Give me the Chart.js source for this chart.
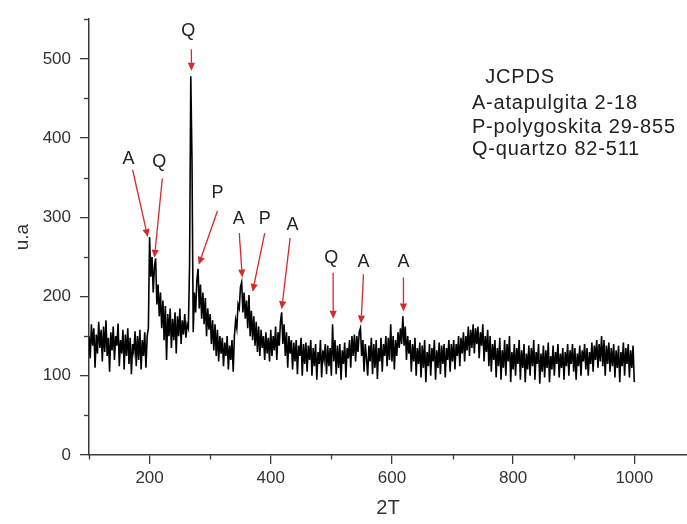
<!DOCTYPE html>
<html><head><meta charset="utf-8">
<script src="https://cdn.jsdelivr.net/npm/chart.js@4/dist/chart.umd.min.js"></script>
<style>html,body{margin:0;padding:0;background:#fff}#wrap{width:687px;height:524px;position:relative}</style>
</head><body><div id="wrap"><canvas id="c" width="687" height="524"></canvas></div>
<script>
const twoTheta = [
100,102,104,106,108,110,112,114,116,118,
120,122,124,126,128,130,132,134,136,138,
140,142,144,146,148,150,152,154,156,158,
160,162,164,166,168,170,172,174,176,178,
180,182,184,186,188,190,192,194,196,198,
200,202,204,206,208,210,212,214,216,218,
220,222,224,226,228,230,232,234,236,238,
240,242,244,246,248,250,252,254,256,258,
260,262,264,266,268,270,272,274,276,278,
280,282,284,286,288,290,292,294,296,298,
300,302,304,306,308,310,312,314,316,318,
320,322,324,326,328,330,332,334,336,338,
340,342,344,346,348,350,352,354,356,358,
360,362,364,366,368,370,372,374,376,378,
380,382,384,386,388,390,392,394,396,398,
400,402,404,406,408,410,412,414,416,418,
420,422,424,426,428,430,432,434,436,438,
440,442,444,446,448,450,452,454,456,458,
460,462,464,466,468,470,472,474,476,478,
480,482,484,486,488,490,492,494,496,498,
500,502,504,506,508,510,512,514,516,518,
520,522,524,526,528,530,532,534,536,538,
540,542,544,546,548,550,552,554,556,558,
560,562,564,566,568,570,572,574,576,578,
580,582,584,586,588,590,592,594,596,598,
600,602,604,606,608,610,612,614,616,618,
620,622,624,626,628,630,632,634,636,638,
640,642,644,646,648,650,652,654,656,658,
660,662,664,666,668,670,672,674,676,678,
680,682,684,686,688,690,692,694,696,698,
700,702,704,706,708,710,712,714,716,718,
720,722,724,726,728,730,732,734,736,738,
740,742,744,746,748,750,752,754,756,758,
760,762,764,766,768,770,772,774,776,778,
780,782,784,786,788,790,792,794,796,798,
800,802,804,806,808,810,812,814,816,818,
820,822,824,826,828,830,832,834,836,838,
840,842,844,846,848,850,852,854,856,858,
860,862,864,866,868,870,872,874,876,878,
880,882,884,886,888,890,892,894,896,898,
900,902,904,906,908,910,912,914,916,918,
920,922,924,926,928,930,932,934,936,938,
940,942,944,946,948,950,952,954,956,958,
960,962,964,966,968,970,972,974,976,978,
980,982,984,986,988,990,992,994,996,998,
1000];
const intensity = [
150,122,165,138,160,110,152,128,168,135,
158,118,162,130,170,125,148,105,155,132,
162,120,150,138,166,112,145,128,158,108,
152,125,160,115,148,102,140,130,156,112,
150,120,158,108,145,125,155,110,150,160,
275,225,250,205,238,248,190,215,175,205,
160,195,145,188,120,178,150,185,135,172,
145,180,128,175,150,185,140,170,152,178,
148,165,160,240,478,372,155,205,180,220,
235,185,215,172,205,165,198,150,185,158,
178,140,170,132,165,125,158,118,150,128,
148,112,142,125,150,108,138,120,145,105,
150,170,160,190,185,212,218,180,205,172,
195,160,202,150,182,145,175,138,168,130,
162,125,158,135,150,120,155,128,148,118,
158,125,150,132,162,120,155,138,168,180,
140,165,125,155,110,150,128,145,108,142,
118,145,102,138,125,148,100,140,115,142,
105,138,120,145,100,135,112,140,95,130,
115,145,98,132,120,140,102,138,112,135,
100,165,118,145,102,138,110,140,95,132,
115,142,98,135,122,145,110,150,125,152,
118,150,130,155,160,125,145,105,140,122,
100,138,118,148,102,140,110,145,96,135,
118,148,105,140,125,150,112,148,120,165,
118,150,108,145,125,155,135,160,140,175,
138,162,120,150,128,145,105,140,118,148,
100,135,115,142,98,138,110,145,92,130,
112,140,100,135,118,145,95,132,110,142,
102,138,115,140,98,135,120,145,105,140,
118,145,108,140,125,150,112,148,128,155,
118,150,132,162,125,158,135,165,128,160,
140,162,122,155,138,165,118,150,130,158,
112,150,105,140,120,145,98,135,112,148,
95,132,110,145,100,140,118,150,92,130,
108,140,100,135,115,145,95,132,110,140,
92,128,108,138,100,135,112,145,95,130,
115,140,90,128,105,138,98,132,110,142,
92,125,108,138,100,130,115,140,98,128,
110,135,95,130,112,140,100,132,115,140,
105,135,95,128,112,138,100,132,118,140,
108,135,100,130,115,142,105,138,120,145,
110,140,118,150,112,145,100,138,115,142,
105,135,112,140,98,132,110,138,92,130,
112,142,100,135,115,140,98,132,110,138,
92];

const xMajorTicks = [200,400,600,800,1000];
const xMinorTicks = [100,300,500,700,900];
const yMajorTicks = [0,100,200,300,400,500];
const yMinorTicks = [50,150,250,350,450,550];

const peakLabels = ['A','Q','Q','P','A','P','A','Q','A','A'];
const labelX     = [165,216,264,312,347,390,436,500,553,619];
const labelY     = [374,370,535,331,298,298,290,249,244,244];
const arrowFromX = [172,221,269,312,348,390,432,503,553,619];
const arrowFromY = [360,349,512,308,280,280,274,230,228,224];
const arrowTipX  = [197,208,269,281,353,370,418,503,549,619];
const arrowTipY  = [275,249,485,240,224,206,184,172,166,181];

const legendLines = ['JCPDS','A-atapulgita 2-18','P-polygoskita 29-855','Q-quartzo 82-511'];
const legendX = [754,732,732,732];
const legendY = [477,443,413,385];

const FONT = "'Liberation Sans', Arial, sans-serif";
const AXIS = '#3a3a3a';

const extrasPlugin = {
  id: 'extras',
  afterDraw(chart) {
    const ctx = chart.ctx, xs = chart.scales.x, ys = chart.scales.y;
    const ca = chart.chartArea;
    ctx.save();
    ctx.strokeStyle = AXIS; ctx.lineWidth = 1.3;
    xMinorTicks.forEach(v => {
      const p = Math.round(xs.getPixelForValue(v)) + 0.5;
      ctx.beginPath(); ctx.moveTo(p, ca.bottom); ctx.lineTo(p, ca.bottom + 4.5); ctx.stroke();
    });
    yMinorTicks.forEach(v => {
      const p = Math.round(ys.getPixelForValue(v)) + 0.5;
      ctx.beginPath(); ctx.moveTo(ca.left, p); ctx.lineTo(ca.left - 5, p); ctx.stroke();
    });
    const red = '#d42a2a';
    for (let i = 0; i < peakLabels.length; i++) {
      const fx = xs.getPixelForValue(arrowFromX[i]), fy = ys.getPixelForValue(arrowFromY[i]);
      const tx = xs.getPixelForValue(arrowTipX[i]), ty = ys.getPixelForValue(arrowTipY[i]);
      const ang = Math.atan2(ty - fy, tx - fx);
      const hl = 8, hw = 3.6;
      const bx = tx - hl * Math.cos(ang), by = ty - hl * Math.sin(ang);
      ctx.strokeStyle = red; ctx.lineWidth = 1.3;
      ctx.beginPath(); ctx.moveTo(fx, fy); ctx.lineTo(bx, by); ctx.stroke();
      ctx.fillStyle = red;
      ctx.beginPath();
      ctx.moveTo(tx, ty);
      ctx.lineTo(bx + hw * Math.sin(ang), by - hw * Math.cos(ang));
      ctx.lineTo(bx - hw * Math.sin(ang), by + hw * Math.cos(ang));
      ctx.closePath(); ctx.fill();
      ctx.fillStyle = '#222';
      ctx.font = '18px ' + FONT;
      ctx.textAlign = 'center'; ctx.textBaseline = 'middle';
      ctx.fillText(peakLabels[i], xs.getPixelForValue(labelX[i]), ys.getPixelForValue(labelY[i]));
    }
    ctx.fillStyle = '#222';
    ctx.font = '20px ' + FONT;
    try { ctx.letterSpacing = '0.8px'; } catch (e) {}
    ctx.textAlign = 'left'; ctx.textBaseline = 'middle';
    legendLines.forEach((t, i) => {
      ctx.fillText(t, xs.getPixelForValue(legendX[i]), ys.getPixelForValue(legendY[i]));
    });
    ctx.restore();
  }
};

new Chart(document.getElementById('c').getContext('2d'), {
  type: 'line',
  data: {
    datasets: [{
      data: twoTheta.map((x, i) => ({ x: x, y: intensity[i] })),
      borderColor: '#000', borderWidth: 1.6, pointRadius: 0, tension: 0, fill: false,
      borderJoinStyle: 'miter'
    }]
  },
  options: {
    responsive: false, animation: false,
    layout: { padding: { top: 9, right: 0, left: 0, bottom: 0 } },
    plugins: { legend: { display: false }, tooltip: { enabled: false } },
    scales: {
      x: {
        type: 'linear', min: 100, max: 1087,
        afterBuildTicks: s => { s.ticks = xMajorTicks.map(v => ({ value: v })); },
        afterFit: s => { s.height = 69; },
        grid: { display: true, drawOnChartArea: false, drawTicks: true, tickLength: 9, color: AXIS, lineWidth: 1.3 },
        border: { display: true, color: AXIS, width: 1.5 },
        ticks: { font: { family: FONT, size: 17 }, color: '#333', padding: 4, maxRotation: 0, autoSkip: false,
                 callback: v => String(v) },
        title: { display: true, text: '2T', font: { family: FONT, size: 20 }, color: '#333', padding: { top: 0, bottom: 4 } }
      },
      y: {
        type: 'linear', min: 0, max: 550,
        afterBuildTicks: s => { s.ticks = yMajorTicks.map(v => ({ value: v })); },
        afterFit: s => { s.width = 89; },
        grid: { display: true, drawOnChartArea: false, drawTicks: true, tickLength: 9, color: AXIS, lineWidth: 1.3 },
        border: { display: true, color: AXIS, width: 1.5 },
        ticks: { font: { family: FONT, size: 17 }, color: '#333', padding: 9, callback: v => String(v) },
        title: { display: true, text: 'u.a', font: { family: FONT, size: 19 }, color: '#333', padding: { top: 11, bottom: 0 } }
      }
    }
  },
  plugins: [extrasPlugin]
});
</script>
</body></html>
